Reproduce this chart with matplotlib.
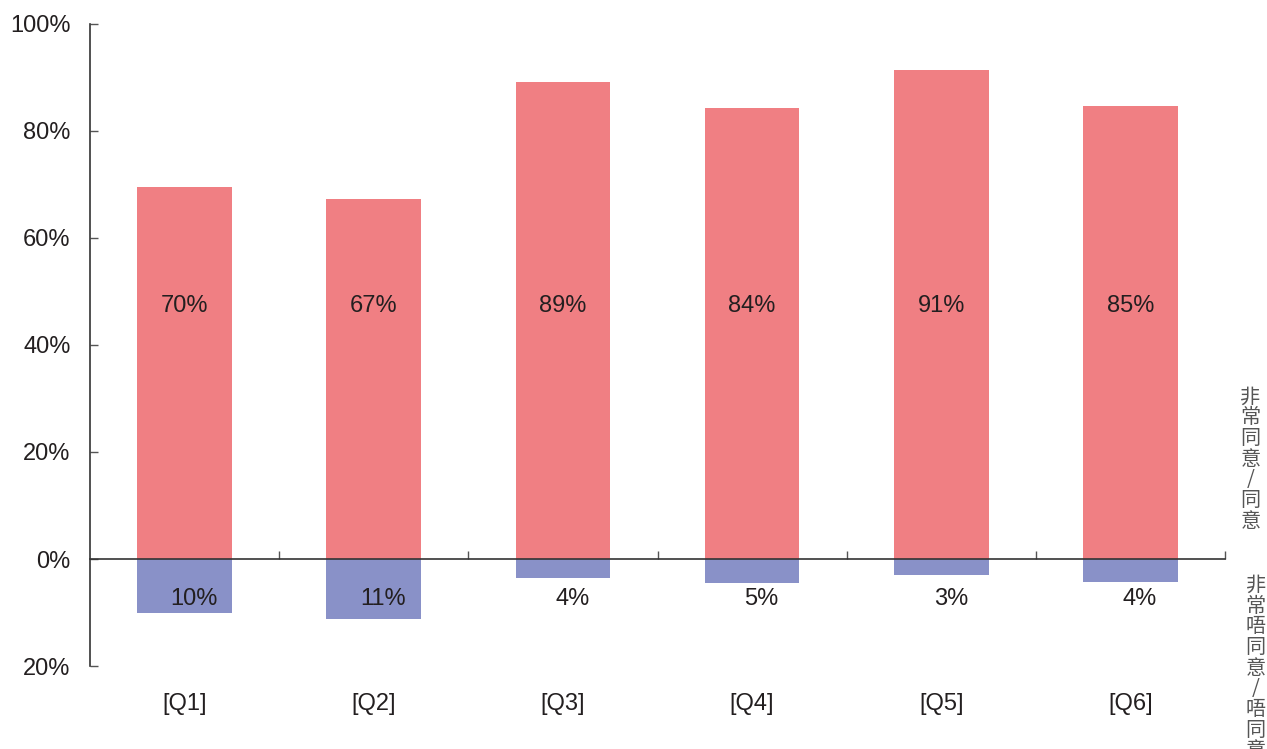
import matplotlib
matplotlib.use('Agg')
import matplotlib.pyplot as plt
import numpy as np

plt.rcParams['font.family'] = ['Liberation Sans', 'DejaVu Sans']

categories = ['[Q1]', '[Q2]', '[Q3]', '[Q4]', '[Q5]', '[Q6]']
agree = [69.5, 67.3, 89.2, 84.3, 91.4, 84.7]
disagree = [10.1, 11.2, 3.6, 4.5, 3.0, 4.3]
agree_labels = ['70%', '67%', '89%', '84%', '91%', '85%']
disagree_labels = ['10%', '11%', '4%', '5%', '3%', '4%']
yticks = [-20, 0, 20, 40, 60, 80, 100]
ytick_labels = ['20%', '0%', '20%', '40%', '60%', '80%', '100%']

red = '#F07F83'
blue = '#8991C8'
text_c = '#231F20'

fig = plt.figure(figsize=(12.67, 7.49), dpi=100)
ax = fig.add_axes([0.0710, 0.1108, 0.8959, 0.8572])

x = np.arange(len(categories))
ax.bar(x, agree, width=0.5, color=red)
ax.bar(x, [-d for d in disagree], width=0.5, color=blue)

for i in x:
    ax.text(i, 47.3, agree_labels[i], ha='center', va='center', fontsize=17, color=text_c)
    ax.text(i + 0.05, -7.5, disagree_labels[i], ha='center', va='center', fontsize=17, color=text_c)
    ax.text(i, -27.1, categories[i], ha='center', va='center', fontsize=17, color=text_c)

ax.set_xlim(-0.5, 5.5)
ax.set_ylim(-20, 100)
ax.set_yticks(yticks)
ax.set_yticklabels(ytick_labels, fontsize=17, color=text_c)
ax.tick_params(axis='y', direction='in', length=6, width=1, color='#555555', pad=14)

ax.set_xticks(np.arange(0.5, 6, 1))
ax.set_xticklabels([])
ax.tick_params(axis='x', direction='in', length=6, width=1, color='#555555')

ax.spines['top'].set_visible(False)
ax.spines['right'].set_visible(False)
ax.spines['bottom'].set_position(('data', 0))
for s in ['left', 'bottom']:
    ax.spines[s].set_color('#333333')
    ax.spines[s].set_linewidth(1.2)

cjk = ['Noto Sans CJK TC', 'DejaVu Sans']
fig.text(0.987, 0.387, '\n'.join('非常同意/同意'), ha='center', va='center',
         fontsize=14.5, color='#555555', family=cjk, linespacing=0.98)
fig.text(0.991, 0.108, '\n'.join('非常唔同意/唔同意'), ha='center', va='center',
         fontsize=14.5, color='#555555', family=cjk, linespacing=0.98)

plt.savefig('out.png')
